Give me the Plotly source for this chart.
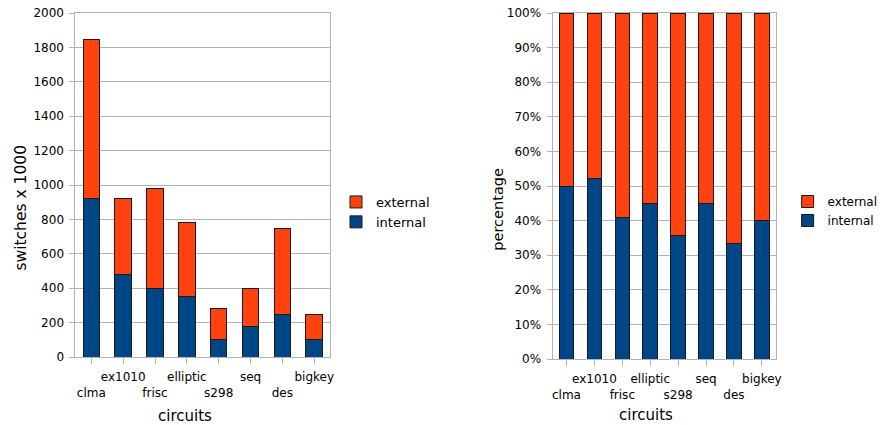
import plotly.graph_objects as go

circuits = ["clma", "ex1010", "frisc", "elliptic", "s298", "seq", "des", "bigkey"]
internal = [920, 480, 400, 350, 100, 180, 250, 100]
external = [925, 440, 580, 430, 180, 220, 500, 150]

tick_text = [("&nbsp;<br>" + c) if i % 2 == 0 else c for i, c in enumerate(circuits)]

total = [a + b for a, b in zip(internal, external)]
internal_pct = [100 * a / t for a, t in zip(internal, total)]
external_pct = [100 * b / t for b, t in zip(external, total)]

C_INT = "#004586"
C_EXT = "#ff420e"
FONT = "DejaVu Sans"
GRID = "#b3b3b3"
W, H = 883, 425


def px(x):
    return x / W


def py(y):
    return 1 - y / H


line = dict(color="#1a1a1a", width=1)
fig = go.Figure()
fig.add_trace(go.Bar(x=circuits, y=internal, name="internal", marker=dict(color=C_INT, line=line),
                     legend="legend", legendrank=2, xaxis="x", yaxis="y"))
fig.add_trace(go.Bar(x=circuits, y=external, name="external", marker=dict(color=C_EXT, line=line),
                     legend="legend", legendrank=1, xaxis="x", yaxis="y"))
fig.add_trace(go.Bar(x=circuits, y=internal_pct, name="internal", marker=dict(color=C_INT, line=line),
                     legend="legend2", legendrank=2, xaxis="x2", yaxis="y2"))
fig.add_trace(go.Bar(x=circuits, y=external_pct, name="external", marker=dict(color=C_EXT, line=line),
                     legend="legend2", legendrank=1, xaxis="x2", yaxis="y2"))

xcommon = dict(type="category", tickvals=circuits, ticktext=tick_text, tickangle=0, automargin=False,
               ticks="outside", ticklen=6, tickcolor=GRID, ticklabelstandoff=3,
               showline=True, linecolor=GRID, mirror=True, showgrid=False,
               tickfont=dict(family=FONT, size=12, color="#000"))
ycommon = dict(ticks="outside", ticklen=5, tickcolor=GRID, showline=True, linecolor=GRID, mirror=True,
               showgrid=True, gridcolor=GRID, gridwidth=1, zeroline=False, automargin=False,
               ticklabelstandoff=3,
               tickfont=dict(family=FONT, size=12, color="#000"))

title_font = dict(family=FONT, size=15, color="#000")
annotations = [
    dict(text="circuits", x=px(189), y=py(416), xref="paper", yref="paper", showarrow=False,
         xanchor="center", yanchor="middle", font=title_font),
    dict(text="circuits", x=px(659), y=py(415), xref="paper", yref="paper", showarrow=False,
         xanchor="center", yanchor="middle", font=title_font),
    dict(text="switches x 1000", x=px(21), y=py(208), xref="paper", yref="paper", showarrow=False,
         xanchor="center", yanchor="middle", textangle=-90, font=dict(family=FONT, size=15.5, color="#000")),
    dict(text="percentage", x=px(508), y=py(209), xref="paper", yref="paper", showarrow=False,
         xanchor="center", yanchor="middle", textangle=-90, font=dict(family=FONT, size=14.5, color="#000")),
]

fig.update_layout(
    width=W, height=H,
    margin=dict(l=0, r=0, t=0, b=0),
    paper_bgcolor="white", plot_bgcolor="white",
    barmode="stack", bargap=0.48,
    font=dict(family=FONT, color="#000"),
    showlegend=True,
    xaxis=dict(domain=[px(77), px(337)], anchor="y", **xcommon),
    yaxis=dict(domain=[py(357), py(13)], anchor="x", range=[0, 2000], dtick=200, **ycommon),
    xaxis2=dict(domain=[px(564), px(792)], anchor="y2", **xcommon),
    yaxis2=dict(domain=[py(359), py(13)], anchor="x2", range=[0, 100], dtick=10, ticksuffix="%",
                **ycommon),
    legend=dict(x=px(343), y=py(187), xanchor="left", yanchor="top", bgcolor="rgba(0,0,0,0)",
                font=dict(family=FONT, size=13, color="#000"), traceorder="normal"),
    legend2=dict(x=px(804), y=py(187), xanchor="left", yanchor="top", bgcolor="rgba(0,0,0,0)",
                 font=dict(family=FONT, size=12, color="#000"), traceorder="normal"),
    annotations=annotations,
)

fig.write_html("out.html", config={"displayModeBar": False},
               post_script="document.body.style.margin='0';document.body.style.overflow='hidden';")
